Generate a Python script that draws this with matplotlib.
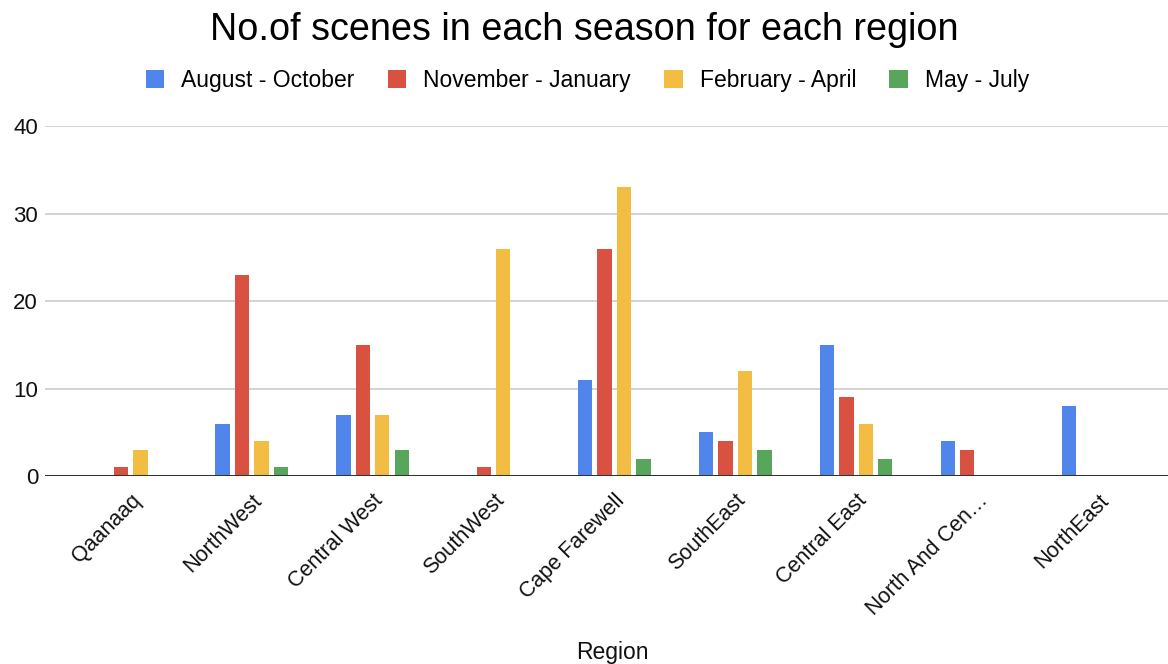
import numpy as np
import matplotlib.pyplot as plt

plt.rcParams['font.family'] = ['Liberation Sans', 'DejaVu Sans']

regions = ['Qaanaaq', 'NorthWest', 'Central West', 'SouthWest', 'Cape Farewell',
           'SouthEast', 'Central East', 'North And Cen…', 'NorthEast']
seasons = ['August - October', 'November - January', 'February - April', 'May - July']
aug_oct = [0, 6, 7, 0, 11, 5, 15, 4, 8]
nov_jan = [1, 23, 15, 1, 26, 4, 9, 3, 0]
feb_apr = [3, 4, 7, 26, 33, 12, 6, 0, 0]
may_jul = [0, 1, 3, 0, 2, 3, 2, 0, 0]
colors = ['#5086ec', '#d95140', '#f2bd42', '#58a65c']

fig = plt.figure(figsize=(11.68, 6.64), dpi=100)
ax = fig.add_axes([0.0385, 0.283, 0.9615, 0.527])

x = np.arange(len(regions))
step = 0.161
width = 0.118
for i, (vals, c, lab) in enumerate(zip([aug_oct, nov_jan, feb_apr, may_jul], colors, seasons)):
    ax.bar(x + (i - 1.5) * step, vals, width=width, color=c, label=lab, zorder=3)

ax.set_ylim(0, 40)
ax.set_xlim(-0.71, 8.58)
ax.set_yticks([0, 10, 20, 30, 40])
ax.yaxis.grid(True, color='#cccccc', linewidth=1.2, zorder=0)
ax.axhline(0, color='#333333', linewidth=2.2, zorder=4)
for s in ax.spines.values():
    s.set_visible(False)
ax.tick_params(axis='both', length=0, colors='#111111')
ax.tick_params(axis='y', pad=5, labelsize=16)
ax.set_xticks(x)
ax.set_xticklabels(regions, rotation=45, ha='right', rotation_mode='anchor', fontsize=15.5)
ax.tick_params(axis='x', pad=10)

fig.text(0.5, 0.955, 'No.of scenes in each season for each region', ha='center', va='center',
         fontsize=27.2, color='#000000')
fig.text(0.524, 0.018, 'Region', ha='center', va='center', fontsize=16.5, color='#111111')

fig.legend(loc='center', bbox_to_anchor=(0.503, 0.879), ncol=4, frameon=False,
           fontsize=16.5, handlelength=0.8, handleheight=0.85, handletextpad=0.75,
           columnspacing=1.45)

fig.savefig('out.png', dpi=100)
